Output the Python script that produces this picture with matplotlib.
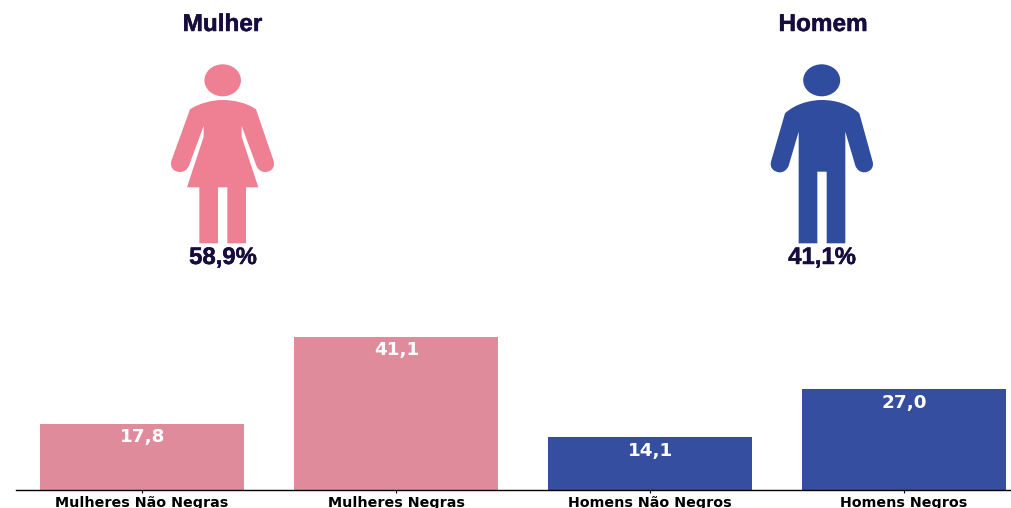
import matplotlib
matplotlib.use("Agg")
import matplotlib.pyplot as plt
import matplotlib.patheffects as pe
from matplotlib.patches import PathPatch, Ellipse
from matplotlib.path import Path

categories = ["Mulheres Não Negras", "Mulheres Negras", "Homens Não Negros", "Homens Negros"]
values = [17.8, 41.1, 14.1, 27.0]
value_labels = ["17,8", "41,1", "14,1", "27,0"]
bar_colors = ["#E08B9B", "#E08B9B", "#354EA0", "#354EA0"]
groups = ["Mulher", "Homem"]
group_labels = ["58,9%", "41,1%"]
WOMAN = "#EF8094"
MAN = "#2F4C9F"
INK = "#160C3E"

W, H = 1011, 508
fig = plt.figure(figsize=(W / 100, H / 100), dpi=100)

# Bar chart
L, R, T, B = 16, 1010.5, 329.5, 490
ax = fig.add_axes([L / W, 1 - B / H, (R - L) / W, (B - T) / H])
ax.bar(range(4), values, width=0.803, color=bar_colors)
ax.set_xlim((L - 142) / 254, (R - 142) / 254)
ax.set_ylim(0, 43.0)
for s in ("top", "left", "right"):
    ax.spines[s].set_visible(False)
ax.spines["bottom"].set_linewidth(1.0)
ax.set_yticks([])
ax.set_xticks(range(4))
ax.set_xticklabels(categories, fontweight="bold", fontsize=10.25)
ax.tick_params(axis="x", length=2, pad=2, width=0.8)
for i, (v, t) in enumerate(zip(values, value_labels)):
    ax.annotate(t, (i, v), xytext=(0.3, -3.3), textcoords="offset points", ha="center", va="top",
                color="white", fontweight="bold", fontsize=13.2)

# Pictogram overlay in pixel coordinates
ov = fig.add_axes([0, 0, 1, 1], zorder=3)
ov.set_xlim(0, W)
ov.set_ylim(H, 0)
ov.axis("off")
ov.patch.set_alpha(0)


def z(ox, pts):
    return [(ox + x / 3, y / 3) for x, y in pts]


def build(ox, segs):
    verts, codes = [], []
    for code, pts in segs:
        verts += z(ox, pts)
        codes += [code] * len(pts)
    verts.append(verts[0])
    codes.append(Path.CLOSEPOLY)
    codes[0] = Path.MOVETO
    return Path(verts, codes)


LN = Path.LINETO
C4 = Path.CURVE4

woman = [
    (LN, [(120, 328)]),
    (C4, [(150, 308), (190, 300), (218, 300)]),
    (C4, [(250, 300), (290, 308), (318, 328)]),
    (LN, [(370, 480)]),
    (C4, [(378, 503), (362, 516), (345, 516)]),
    (C4, [(333, 516), (323, 508), (319, 497)]),
    (LN, [(275, 378), (275, 410), (325, 562), (288, 562), (288, 730), (232, 730), (232, 562),
          (204, 562), (204, 730), (148, 730), (148, 562), (111, 562), (161, 410), (161, 378), (117, 497)]),
    (C4, [(113, 508), (103, 516), (90, 516)]),
    (C4, [(73, 516), (57, 503), (65, 480)]),
]
man = [
    (LN, [(105, 340)]),
    (C4, [(135, 312), (180, 300), (216, 300)]),
    (C4, [(255, 300), (298, 312), (328, 340)]),
    (LN, [(368, 485)]),
    (C4, [(373, 505), (358, 517), (342, 517)]),
    (C4, [(330, 517), (320, 508), (316, 497)]),
    (LN, [(286, 395), (286, 730), (230, 730), (230, 515), (202, 515), (202, 730), (146, 730),
          (146, 395), (116, 497)]),
    (C4, [(112, 508), (102, 517), (90, 517)]),
    (C4, [(74, 517), (58, 505), (63, 485)]),
]

ov.add_patch(PathPatch(build(150, woman), fc=WOMAN, ec="none"))
ov.add_patch(Ellipse((222.7, 80.3), 36.5, 32, fc=WOMAN, ec="none"))
ov.add_patch(PathPatch(build(750, man), fc=MAN, ec="none"))
ov.add_patch(Ellipse((821.7, 80.3), 37, 32, fc=MAN, ec="none"))

font = ["Liberation Sans", "DejaVu Sans"]
heavy = [pe.withStroke(linewidth=0.35, foreground=INK)]
for cx, g in zip((222.5, 823), groups):
    ov.text(cx, 24.5, g, ha="center", va="center", color=INK, family=font, fontweight="bold",
            fontsize=17.5, path_effects=heavy)
for cx, p in zip((223, 822), group_labels):
    ov.text(cx, 257.5, p, ha="center", va="center", color=INK, family=font, fontweight="bold",
            fontsize=17.2, path_effects=heavy)

fig.savefig("out.png", dpi=100)
